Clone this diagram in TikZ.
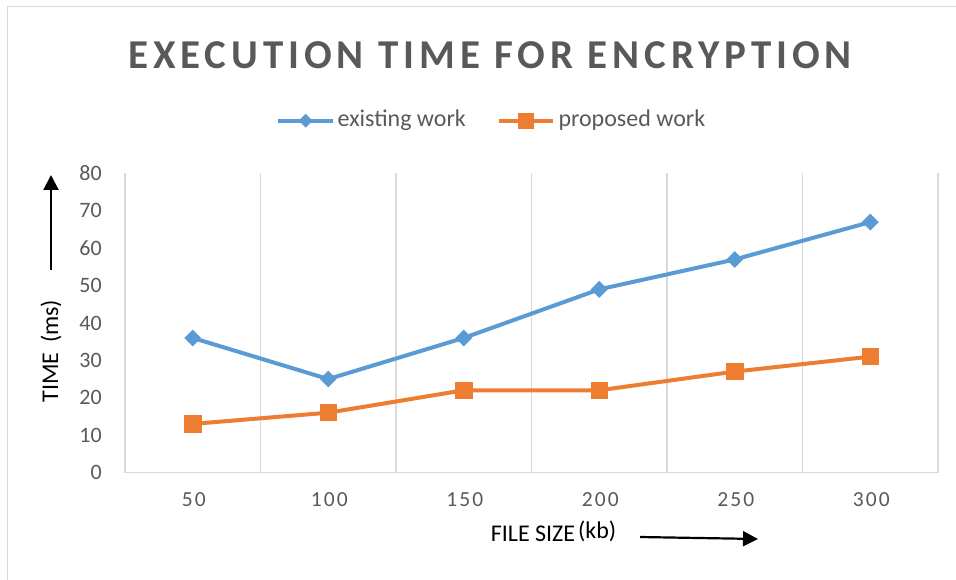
\documentclass[tikz,border=0pt]{standalone}
\usepackage{fontspec}
\setmainfont{Carlito}
\newfontfamily\titlefont[LetterSpace=12]{Carlito}
\newfontfamily\xtickfont[LetterSpace=10]{Carlito}
\usetikzlibrary{shapes.geometric,arrows.meta}
\definecolor{ttl}{HTML}{595959}
\definecolor{gridc}{HTML}{D9D9D9}
\definecolor{serA}{HTML}{5B9BD5}
\definecolor{serB}{HTML}{ED7D31}
\tikzset{
  gridline/.style={draw=gridc, line width=1.5pt},
  serline/.style={line width=4pt, line join=round},
  dmark/.style={diamond, fill=serA, inner sep=0pt, minimum width=17pt, minimum height=17pt},
  smark/.style={rectangle, fill=serB, inner sep=0pt, minimum width=17.5pt, minimum height=17.5pt},
  ldmark/.style={diamond, fill=serA, inner sep=0pt, minimum width=14pt, minimum height=14pt},
  lsmark/.style={rectangle, fill=serB, inner sep=0pt, minimum width=16pt, minimum height=16pt},
  ytick/.style={text=ttl, font=\fontsize{22}{26}\selectfont, anchor=east, inner sep=0pt},
  xtick/.style={text=ttl, font=\xtickfont\fontsize{21.5}{26}\selectfont, anchor=center, inner sep=0pt},
  legtext/.style={text=ttl, font=\fontsize{24}{28}\selectfont, anchor=base west, inner sep=0pt},
  axtitle/.style={text=black, font=\fontsize{24}{28}\selectfont, inner sep=0pt},
  bigarrow/.style={line width=2.2pt, -{Triangle[length=15pt,width=15pt]}}
}
\begin{document}
\begin{tikzpicture}[x=1pt,y=-1pt]
\useasboundingbox (0,0) rectangle (956,580);
% outer border (left and top visible)
\draw[draw=gridc, line width=1.5pt] (7.5,580) -- (7.5,6.5) -- (956,6.5);

% title
\node[text=ttl, font=\titlefont\bfseries\fontsize{41}{48}\selectfont, inner sep=0pt] (title) at (490,55) {EXECUTION TIME FOR ENCRYPTION};

% legend
\coordinate (la1) at (278,120.7);
\coordinate (la2) at (332.5,120.7);
\draw[serA, serline] (la1) -- (la2);
\node[ldmark] (lam) at (305.7,120.7) {};
\node[legtext] (lat) at (337.5,126.7) {existing work};
\coordinate (lb1) at (499,120.7);
\coordinate (lb2) at (553,120.7);
\draw[serB, serline] (lb1) -- (lb2);
\node[lsmark] (lbm) at (526,120.7) {};
\node[legtext] (lbt) at (558.3,126.7) {proposed work};

% grid lines
\foreach \i in {1,...,6} {
  \draw[gridline] ({125+135.5*\i},173) -- ({125+135.5*\i},472.5);
}
\draw[gridline] (125,173) -- (125,472.5) -- (938,472.5);

% y tick labels
\foreach \v in {0,10,...,80} {
  \node[ytick] (yt\v) at (102,{472.5-3.7375*\v}) {\v};
}
% x tick labels
\foreach \c/\lab in {0/50,1/100,2/150,3/200,4/250,5/300} {
  \node[xtick] (xt\lab) at ({193.75+135.5*\c},500) {\lab};
}

% data coordinates
\foreach \c/\v [count=\k] in {0/36,1/25,2/36,3/49,4/57,5/67} {
  \coordinate (e\k) at ({192.75+135.5*\c},{472.5-3.7375*\v});
}
\foreach \c/\v [count=\k] in {0/13,1/16,2/22,3/22,4/27,5/31} {
  \coordinate (p\k) at ({192.75+135.5*\c},{472.5-3.7375*\v});
}
\draw[serA, serline] (e1) -- (e2) -- (e3) -- (e4) -- (e5) -- (e6);
\draw[serB, serline] (p1) -- (p2) -- (p3) -- (p4) -- (p5) -- (p6);
\foreach \k in {1,...,6} {
  \node[dmark] (me\k) at (e\k) {};
  \node[smark] (mp\k) at (p\k) {};
}

% axis titles and arrows
\node[axtitle, rotate=90] (ytitle) at (51,351) {TIME\, (ms)};
\coordinate (ya1) at (51,270);
\coordinate (ya2) at (51,175);
\draw[bigarrow] (ya1) -- (ya2);
\node[axtitle, anchor=base west] (xtitle) at (490.7,541.7) {FILE SIZE};
\node[axtitle, anchor=base west] (xunit) at (578,538.5) {(kb)};
\coordinate (xa1) at (640,537);
\coordinate (xa2) at (758,539);
\draw[bigarrow] (xa1) -- (xa2);
\end{tikzpicture}
\end{document}
